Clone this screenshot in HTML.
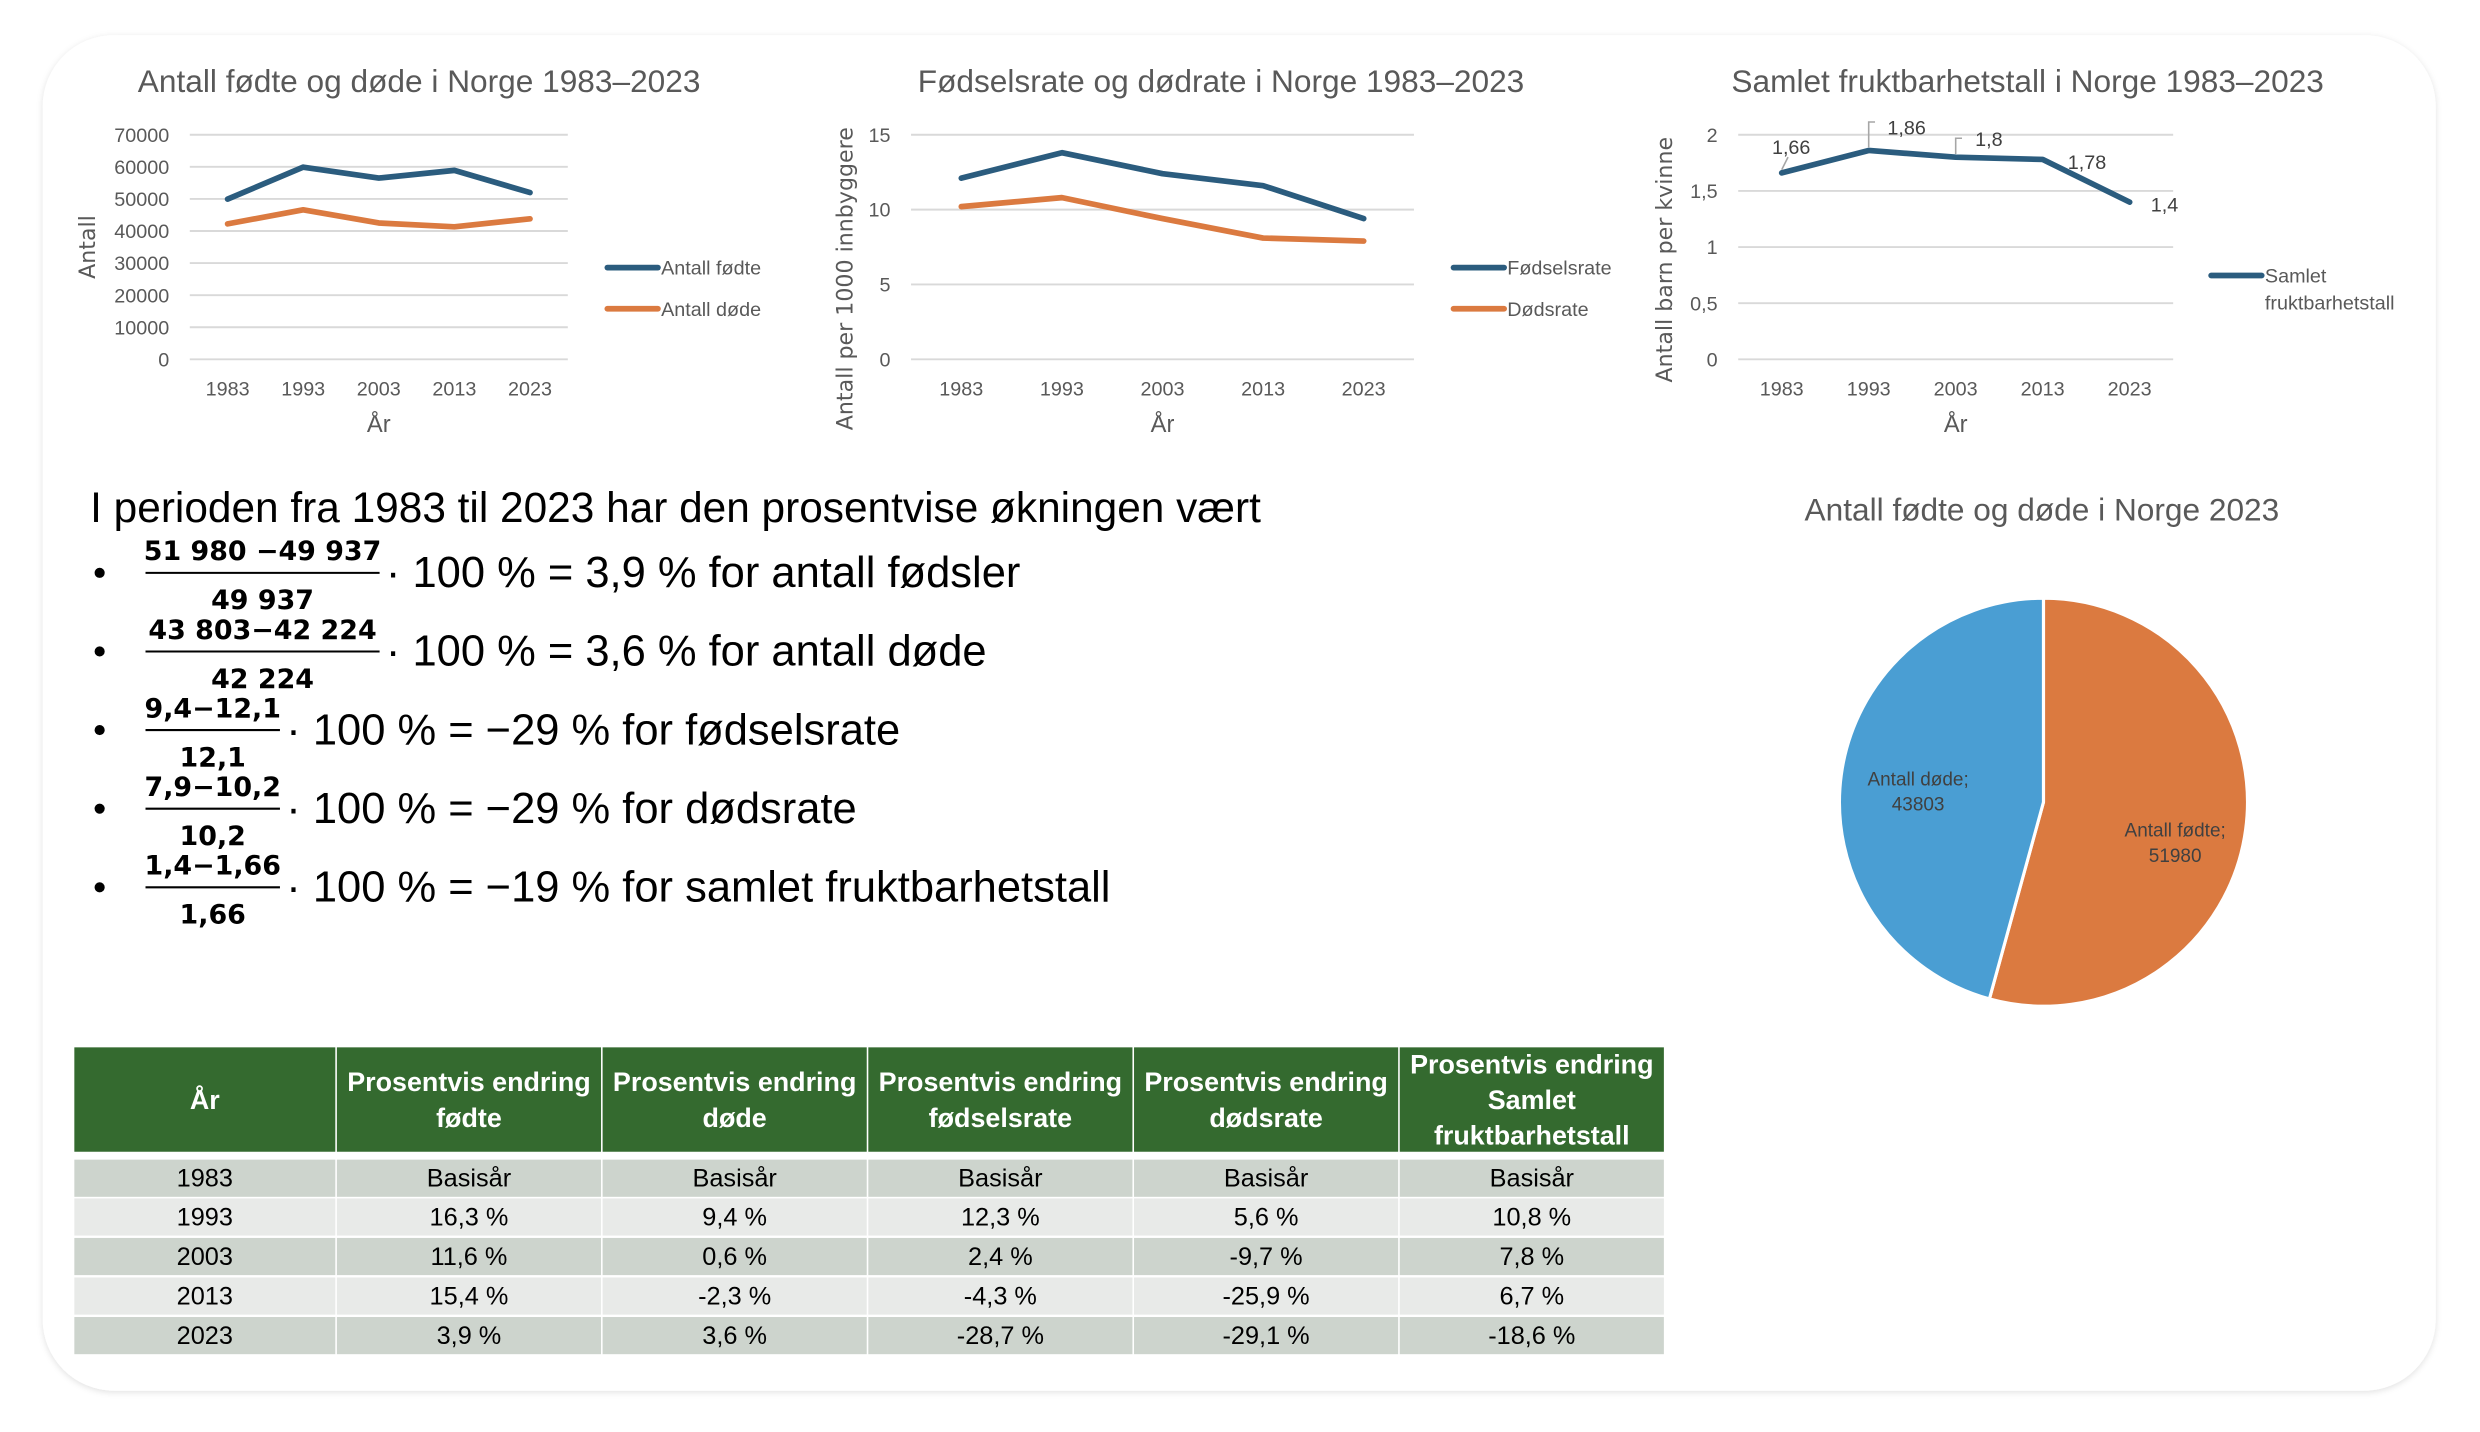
<!DOCTYPE html>
<html><head><meta charset="utf-8">
<style>
html,body{margin:0;padding:0;background:#fff;}
svg{display:block;font-family:"Liberation Sans Narrow","Liberation Sans",sans-serif;}
</style></head>
<body>
<svg id="root" width="2480" height="1432" viewBox="0 0 1568 905" xmlns="http://www.w3.org/2000/svg">
<defs>
<filter id="sh" x="-5%" y="-5%" width="110%" height="110%"><feDropShadow dx="0" dy="1" stdDeviation="2" flood-color="#000" flood-opacity="0.12"/></filter>
</defs>
<rect x="27" y="22" width="1513" height="857" rx="45" fill="#fff" filter="url(#sh)"/>
<g id="charts"></g>
<g id="text-block" fill="#000" font-family="'Liberation Sans',sans-serif">
<text x="57" y="330" font-size="26.8">I perioden fra 1983 til 2023 har den prosentvise økningen vært</text>
</g>
<g id="pie"></g>
<g id="table"></g>
</svg>
<script>
// ---------- data ----------
const years = ["1983","1993","2003","2013","2023"];
const birthsCount = [49937, 59900, 56500, 58900, 51980];
const deathsCount = [42224, 46600, 42500, 41300, 43803];
const birthRate = [12.1, 13.8, 12.4, 11.6, 9.4];
const deathRate = [10.2, 10.8, 9.4, 8.1, 7.9];
const fertility = [1.66, 1.86, 1.8, 1.78, 1.4];
const fertilityLabels = ["1,66","1,86","1,8","1,78","1,4"];
const ticks1 = [0,10000,20000,30000,40000,50000,60000,70000];
const ticks2 = [0,5,10,15];
const ticks3 = [0,0.5,1,1.5,2];
const ticks3Labels = ["0","0,5","1","1,5","2"];
const pieCategories = ["Antall fødte","Antall døde"];
const pieValues = [51980, 43803];
const tableHeaders = ["År","Prosentvis endring|fødte","Prosentvis endring|døde","Prosentvis endring|fødselsrate","Prosentvis endring|dødsrate","Prosentvis endring|Samlet|fruktbarhetstall"];
const tableRows = [
 ["1983","Basisår","Basisår","Basisår","Basisår","Basisår"],
 ["1993","16,3 %","9,4 %","12,3 %","5,6 %","10,8 %"],
 ["2003","11,6 %","0,6 %","2,4 %","-9,7 %","7,8 %"],
 ["2013","15,4 %","-2,3 %","-4,3 %","-25,9 %","6,7 %"],
 ["2023","3,9 %","3,6 %","-28,7 %","-29,1 %","-18,6 %"]
];
const fractionNums = ["51 980 −49 937","43 803−42 224","9,4−12,1","7,9−10,2","1,4−1,66"];
const fractionDens = ["49 937","42 224","12,1","10,2","1,66"];
const fractionRest = ["· 100 % = 3,9 % for antall fødsler","· 100 % = 3,6 % for antall døde","· 100 % = −29 % for fødselsrate","· 100 % = −29 % for dødsrate","· 100 % = −19 % for samlet fruktbarhetstall"];

const NS="http://www.w3.org/2000/svg";
function mk(tag, attrs, parent, txt){const e=document.createElementNS(NS,tag);for(const k in attrs)e.setAttribute(k,attrs[k]);if(txt!==undefined)e.textContent=txt;parent.appendChild(e);return e;}
const BLUE="#2b5c7e", ORANGE="#db7a40", GRID="#d9d9d9", TXT="#595959";
const charts=document.getElementById('charts');

function lineChart(o){
  const g=mk('g',{},charts);
  
  
  const y=v=>o.y0-(v-o.vmin)/(o.vmax-o.vmin)*(o.y0-o.y1);
  const bw=(o.x1-o.x0)/years.length;
  const x=i=>o.x0+(i+0.5)*bw;
  const t=mk('text',{x:o.titleX,y:58,'font-size':20,'text-anchor':'middle',fill:TXT},g,o.title);
  
  
  o.ticks.forEach((v,i)=>{
    const l=mk('line',{x1:o.x0,x2:o.x1,y1:y(v),y2:y(v),stroke:GRID,'stroke-width':1.2},g);
    
    
    const tl=mk('text',{x:o.tickX,y:y(v)+4.5,'font-size':12.5,'text-anchor':'end',fill:TXT},g,o.tickLabels?o.tickLabels[i]:String(v));
    
    
  });
  years.forEach((yr,i)=>{
    const tl=mk('text',{x:x(i),y:250,'font-size':12.5,'text-anchor':'middle',fill:TXT},g,yr);
    
    
  });
  const xt=mk('text',{x:(o.x0+o.x1)/2,y:273,'font-size':15,'text-anchor':'middle',fill:TXT},g,'År');
  
  
  const yt=mk('text',{x:0,y:0,'font-size':14,'text-anchor':'middle',fill:TXT,'font-family':"'DejaVu Sans',sans-serif",transform:`translate(${o.yTitleX},${o.yTitleY}) rotate(-90)`},g,o.yTitle);
  
  
  o.series.forEach((s,si)=>{
    const p=mk('polyline',{points:s.data.map((v,i)=>x(i)+','+y(v)).join(' '),fill:'none',stroke:s.color,'stroke-width':3.6,'stroke-linejoin':'round','stroke-linecap':'round'},g);
    
    
    const ly=o.legY+si*26;
    const ll=mk('line',{x1:o.legX,x2:o.legX+32,y1:ly,y2:ly,stroke:s.color,'stroke-width':3.6,'stroke-linecap':'round'},g);
    
    
    s.label.forEach((lt,k)=>{
      const te=mk('text',{x:o.legX+34,y:ly+4.5+k*17,'font-size':12.5,fill:TXT},g,lt);
      
      
    });
    if(s.labels){
      const offs=[[6,-12],[24,-10],[21,-7],[28,6],[22,6]];
      s.data.forEach((v,i)=>{
        const dl=mk('text',{x:x(i)+offs[i][0],y:y(v)+offs[i][1],'font-size':12.5,'text-anchor':'middle',fill:'#404040'},g,s.labels[i]);
        
        
      });
      const a=mk('path',{d:`M${x(1)},${y(s.data[1])-2} V${y(s.data[1])-18} h4 M${x(2)},${y(s.data[2])-2} V${y(s.data[2])-12} h4 M${x(0)},${y(s.data[0])-2} l4,-8`,stroke:'#a6a6a6','stroke-width':1,fill:'none'},g);
      
      
    }
  });
}
lineChart({name:'births-deaths-count-chart',title:'Antall fødte og døde i Norge 1983–2023',titleX:265,x0:120,x1:359,y0:227,y1:85,vmin:0,vmax:70000,ticks:ticks1,tickX:107,yTitle:'Antall',yTitleX:60,yTitleY:156,legX:384,legY:169,
 series:[{key:'births',data:birthsCount,color:BLUE,label:['Antall fødte']},{key:'deaths',data:deathsCount,color:ORANGE,label:['Antall døde']}]});
lineChart({name:'birth-death-rate-chart',title:'Fødselsrate og dødrate i Norge 1983–2023',titleX:772,x0:576,x1:894,y0:227,y1:85,vmin:0,vmax:15,ticks:ticks2,tickX:563,yTitle:'Antall per 1000 innbyggere',yTitleX:539,yTitleY:176,legX:919,legY:169,
 series:[{key:'birth-rate',data:birthRate,color:BLUE,label:['Fødselsrate']},{key:'death-rate',data:deathRate,color:ORANGE,label:['Dødsrate']}]});
lineChart({name:'fertility-chart',title:'Samlet fruktbarhetstall i Norge 1983–2023',titleX:1282,x0:1099,x1:1374,y0:227,y1:85,vmin:0,vmax:2,ticks:ticks3,tickLabels:ticks3Labels,tickX:1086,yTitle:'Antall barn per kvinne',yTitleX:1057,yTitleY:164,legX:1398,legY:174,
 series:[{key:'fertility',data:fertility,color:BLUE,label:['Samlet','fruktbarhetstall'],labels:fertilityLabels}]});

// ---------- text block ----------
const tb=document.getElementById('text-block');
const barW=[148,148,85,85,85];
fractionNums.forEach((n,i)=>{
  const cy=362+i*49.7;
  const g=mk('g',{},tb);
  
  
  mk('circle',{cx:63,cy:cy,r:3.2,fill:'#000'},g);
  const mid=92+barW[i]/2;
  mk('text',{x:mid,y:cy-8,'font-size':17,'font-weight':'bold','text-anchor':'middle','font-family':"'DejaVu Sans',sans-serif"},g,n);
  mk('line',{x1:92,x2:92+barW[i],y1:cy,y2:cy,stroke:'#000','stroke-width':1.3},g);
  mk('text',{x:mid,y:cy+23,'font-size':17,'font-weight':'bold','text-anchor':'middle','font-family':"'DejaVu Sans',sans-serif"},g,fractionDens[i]);
  mk('text',{x:96+barW[i],y:cy+9,'font-size':27.5},g,fractionRest[i]);
});

// ---------- pie ----------
const pie=document.getElementById('pie');
const pt=mk('text',{x:1291,y:329,'font-size':20,'text-anchor':'middle',fill:TXT},pie,'Antall fødte og døde i Norge 2023');


const cx=1292, cy=507, R=129;
const tot=pieValues.reduce((a,b)=>a+b,0);
const pieColors=[ORANGE,'#4a9ed3'];
let ang=0;
pieValues.forEach((v,i)=>{
  const a0=ang, a1=ang+v/tot*2*Math.PI; ang=a1;
  const p=(a)=>[cx+R*Math.sin(a),cy-R*Math.cos(a)];
  const [x0,y0]=p(a0),[x1,y1]=p(a1);
  const large=(a1-a0)>Math.PI?1:0;
  const s=mk('path',{d:`M${cx},${cy} L${x0},${y0} A${R},${R} 0 ${large} 1 ${x1},${y1} Z`,fill:pieColors[i],stroke:'#fff','stroke-width':2},pie);
  
  
  const am=(a0+a1)/2, lr=R*0.62;
  const lx=cx+lr*Math.sin(am)+(i===0?4:0), ly=cy-lr*Math.cos(am)+(i===0?15:4);
  const lb=mk('text',{x:lx,y:ly-4,'font-size':12,'text-anchor':'middle',fill:'#404040'},pie);
  
  
  mk('tspan',{x:lx,dy:0},lb,pieCategories[i]+';');
  mk('tspan',{x:lx,dy:16},lb,String(v));
});

// ---------- table ----------
const tbl=document.getElementById('table');
const colX=[47,213,381,549,717,885], colW=[165,167,167,167,167,167];
const hdr=mk('g',{},tbl);


tableHeaders.forEach((h,c)=>{
  mk('rect',{x:colX[c],y:662,width:colW[c],height:66,fill:'#346a2f'},hdr);
  const lines=h.split('|');
  const lh=22.5, start=695-(lines.length-1)*lh/2;
  lines.forEach((t,k)=>mk('text',{x:colX[c]+colW[c]/2,y:start+k*lh+6,'font-size':17,'font-weight':'bold','text-anchor':'middle',fill:'#fff'},hdr,t));
});
const rowY=[733,757.5,782.5,807.5,832.5];
tableRows.forEach((r,ri)=>{
  const g=mk('g',{},tbl);
  
  
  r.forEach((cell,c)=>{
    mk('rect',{x:colX[c],y:rowY[ri],width:colW[c],height:23.5,fill:ri%2===0?'#cdd4cd':'#e8eae8'},g);
    mk('text',{x:colX[c]+colW[c]/2,y:rowY[ri]+17,'font-size':16,'text-anchor':'middle',fill:'#000'},g,cell);
  });
});
</script>
</body></html>
